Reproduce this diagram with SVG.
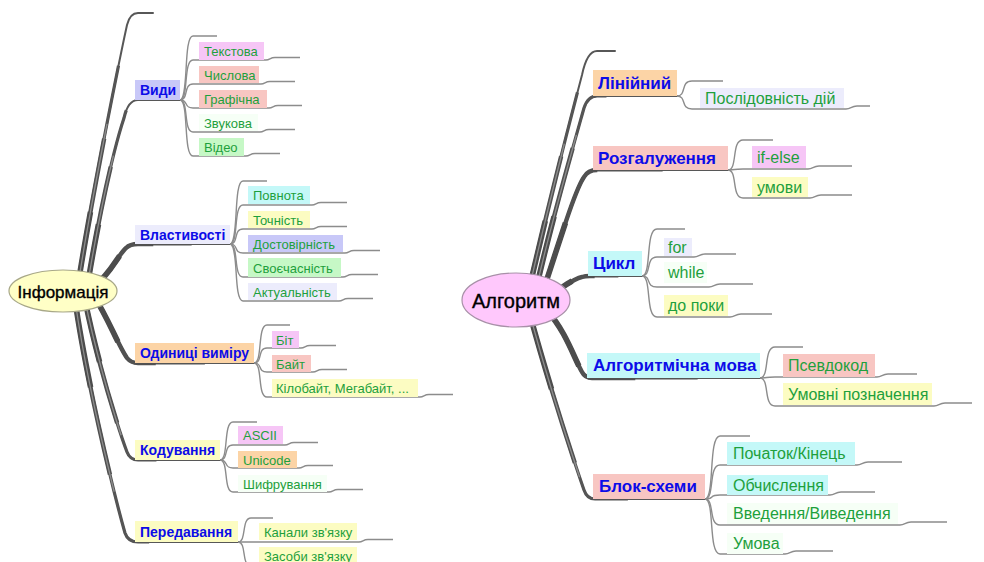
<svg xmlns="http://www.w3.org/2000/svg" xmlns:xlink="http://www.w3.org/1999/xlink" width="984" height="562" viewBox="0 0 984 562">
<style>
text{font-family:"Liberation Sans",Arial,sans-serif;dominant-baseline:central}
.ln{fill:none;stroke:#8c8c8c;stroke-width:1.4}
.s0{fill:none;stroke:#575757;stroke-width:2;stroke-linecap:round}
.s1{fill:none;stroke:#555;stroke-width:3.2;stroke-dasharray:75 200}
.s2{fill:none;stroke:#515151;stroke-width:4.4;stroke-dasharray:50 200}
.s3{fill:none;stroke:#4c4c4c;stroke-width:5.6;stroke-dasharray:25 200}
.hl{fill:none;stroke:#8e8e8e;stroke-width:1.3;stroke-dasharray:55 200}
.b1{font-size:14px;font-weight:bold;fill:#0c0ce8}
.b2{font-size:17px;font-weight:bold;fill:#0c0ce8}
.g1{font-size:13px;fill:#1ea03c}
.g2{font-size:16px;fill:#1ea03c}
.root{fill:#000;stroke:#000;stroke-width:0.35}
.pink{fill:#f6c6f6}.salm{fill:#f8c6c2}.lav{fill:#c8c8f8}.llav{fill:#ececfc}
.peach{fill:#fcd4a6}.yel{fill:#fcfcc2}.grn{fill:#c6f8c6}.cyan{fill:#c4f8f8}.pale{fill:#f6fff6}
</style>
<defs>
<path id="t1" pathLength="100" d="M78,285 C88,220 115,80 127,25 Q130,13 138,13 L153,13"/>
<path id="t2" pathLength="100" d="M88,282 C95,240 110,160 124,118 Q128,100 138,100 L180,100"/>
<path id="t3" pathLength="100" d="M95,285 C110,275 118,255 126,248 Q130,244 138,244 L230,244"/>
<path id="t4" pathLength="100" d="M95,298 C108,318 118,345 127,358 Q131,363 138,363 L254,363"/>
<path id="t5" pathLength="100" d="M85,300 C95,350 115,420 127,452 Q130,460 138,460 L220,460"/>
<path id="t6" pathLength="100" d="M75,300 C85,370 110,480 125,533 Q128,542 138,542 L238,542"/>
<path id="r1" pathLength="100" d="M530,285 C545,220 570,120 582,75 Q587,51 597,51 L615,51"/>
<path id="r2" pathLength="100" d="M537,285 C552,220 575,140 584,108 Q588,96 597,96 L677,96"/>
<path id="r3" pathLength="100" d="M545,285 C560,240 575,190 584,177 Q588,170 597,170 L728,170"/>
<path id="r4" pathLength="100" d="M552,294 C566,285 575,278 582,277 Q585,276 590,276 L642,276"/>
<path id="r5" pathLength="100" d="M548,312 C565,330 575,360 582,372 Q585,378 592,378 L760,378"/>
<path id="r6" pathLength="100" d="M530,315 C545,370 570,450 584,490 Q587,499 595,499 L705,499"/>
</defs>

<g id="connectors">
<g id="trunks">
<use href="#t1" class="s0"/><use href="#t1" class="s1"/><use href="#t1" class="s2"/><use href="#t1" class="s3"/><use href="#t1" class="hl"/>
<use href="#t2" class="s0"/><use href="#t2" class="s1"/><use href="#t2" class="s2"/><use href="#t2" class="s3"/><use href="#t2" class="hl"/>
<use href="#t3" class="s0"/><use href="#t3" class="s1"/><use href="#t3" class="s2"/><use href="#t3" class="s3"/>
<use href="#t4" class="s0"/><use href="#t4" class="s1"/><use href="#t4" class="s2"/><use href="#t4" class="s3"/>
<use href="#t5" class="s0"/><use href="#t5" class="s1"/><use href="#t5" class="s2"/><use href="#t5" class="s3"/><use href="#t5" class="hl"/>
<use href="#t6" class="s0"/><use href="#t6" class="s1"/><use href="#t6" class="s2"/><use href="#t6" class="s3"/><use href="#t6" class="hl"/>
<use href="#r1" class="s0"/><use href="#r1" class="s1"/><use href="#r1" class="s2"/><use href="#r1" class="s3"/><use href="#r1" class="hl"/>
<use href="#r2" class="s0"/><use href="#r2" class="s1"/><use href="#r2" class="s2"/><use href="#r2" class="s3"/><use href="#r2" class="hl"/>
<use href="#r3" class="s0"/><use href="#r3" class="s1"/><use href="#r3" class="s2"/><use href="#r3" class="s3"/>
<use href="#r4" class="s0"/><use href="#r4" class="s1"/><use href="#r4" class="s2"/><use href="#r4" class="s3"/>
<use href="#r5" class="s0"/><use href="#r5" class="s1"/><use href="#r5" class="s2"/><use href="#r5" class="s3"/>
<use href="#r6" class="s0"/><use href="#r6" class="s1"/><use href="#r6" class="s2"/><use href="#r6" class="s3"/><use href="#r6" class="hl"/>
</g>
<g id="leaves" class="ln">
<path d="M180,100 C189,100 183,36 193,36 L217,36"/>
<path d="M180,100 C189,100 183,60 193,60 L266,60 C270,60 270,57.5 275,57.5 L300,57.5"/>
<path d="M180,100 C189,100 183,84 193,84 L261,84 C265,84 265,81.5 270,81.5 L295,81.5"/>
<path d="M180,100 C189,100 183,108 193,108 L269,108 C273,108 273,105.5 278,105.5 L302,105.5"/>
<path d="M180,100 C189,100 183,132 193,132 L260,132 C264,132 264,129.5 269,129.5 L295,129.5"/>
<path d="M180,100 C189,100 183,156 193,156 L246,156 C250,156 250,153.5 255,153.5 L280,153.5"/>

<path d="M230,244 C239,244 233,181 243,181 L267,181"/>
<path d="M230,244 C239,244 233,205 243,205 L312,205 C316,205 316,202.5 321,202.5 L347,202.5"/>
<path d="M230,244 C239,244 233,229 243,229 L312,229 C316,229 316,226.5 321,226.5 L347,226.5"/>
<path d="M230,244 C239,244 233,253 243,253 L345,253 C349,253 349,250.5 354,250.5 L380,250.5"/>
<path d="M230,244 C239,244 233,277 243,277 L343,277 C347,277 347,274.5 352,274.5 L378,274.5"/>
<path d="M230,244 C239,244 233,301 243,301 L339,301 C343,301 343,298.5 348,298.5 L373,298.5"/>

<path d="M254,363 C263,363 257,325 267,325 L290,325"/>
<path d="M254,363 C263,363 257,348 267,348 L301,348 C305,348 305,345.5 310,345.5 L336,345.5"/>
<path d="M254,363 C263,363 257,372 267,372 L313,372 C317,372 317,369.5 322,369.5 L347,369.5"/>
<path d="M254,363 C263,363 257,397 267,397 L420,397 C424,397 424,394.5 429,394.5 L453,394.5"/>

<path d="M220,460 C229,460 223,422 233,422 L257,422"/>
<path d="M220,460 C229,460 223,445 233,445 L285,445 C289,445 289,442.5 294,442.5 L318,442.5"/>
<path d="M220,460 C229,460 223,468 233,468 L299,468 C303,468 303,465.5 308,465.5 L333,465.5"/>
<path d="M220,460 C229,460 223,492 233,492 L329,492 C333,492 333,489.5 338,489.5 L363,489.5"/>

<path d="M238,542 C247,542 241,518 251,518 L273,518"/>
<path d="M238,542 L359,542 C363,542 363,539.5 368,539.5 L393,539.5"/>
<path d="M238,542 C247,542 241,566 251,566 L393,566"/>

<path d="M677,96 C687,96 680,81 692,81 L723,81"/>
<path d="M677,96 C687,96 680,109 692,109 L846,109 C851,109 851,106 857,106 L870,106"/>

<path d="M728,170 C738,170 731,140 743,140 L773,140"/>
<path d="M728,170 C738,170 731,169 743,169 L808,169 C813,169 813,166 819,166 L852,166"/>
<path d="M728,170 C738,170 731,198 743,198 L810,198 C815,198 815,195 821,195 L852,195"/>

<path d="M642,276 C652,276 645,229 657,229 L685,229"/>
<path d="M642,276 C652,276 645,257 657,257 L694,257 C699,257 699,254 705,254 L736,254"/>
<path d="M642,276 C652,276 645,287 657,287 L709,287 C714,287 714,284 720,284 L753,284"/>
<path d="M642,276 C652,276 645,317 657,317 L730,317 C735,317 735,314 741,314 L772,314"/>

<path d="M760,378 C770,378 763,347 775,347 L803,347"/>
<path d="M760,378 C770,378 763,377 775,377 L877,377 C882,377 882,374 888,374 L917,374"/>
<path d="M760,378 C770,378 763,406 775,406 L934,406 C939,406 939,403 945,403 L972,403"/>

<path d="M705,499 C715,499 708,436 720,436 L750,436"/>
<path d="M705,499 C715,499 708,465 720,465 L857,465 C862,465 862,462 868,462 L902,462"/>
<path d="M705,499 C715,499 708,495 720,495 L830,495 C835,495 835,492 841,492 L875,492"/>
<path d="M705,499 C715,499 708,525 720,525 L900,525 C905,525 905,522 911,522 L947,522"/>
<path d="M705,499 C715,499 708,554 720,554 L785,554 C790,554 790,551 796,551 L833,551"/>
</g>
</g>

<g id="informatsiia"><ellipse cx="63" cy="291" rx="54" ry="21" fill="#ffffc6" stroke="#a8a888" stroke-width="1.2"/><text class="root" x="63" y="292" text-anchor="middle" font-size="17">Інформація</text></g>

<g id="vydy"><rect class="lav" x="135" y="80" width="45" height="20"/><text class="b1" x="140" y="90">Види</text></g>
<g id="tekstova"><rect class="pink" x="199" y="42" width="65" height="18"/><text class="g1" x="204" y="51">Текстова</text></g>
<g id="chyslova"><rect class="salm" x="199" y="66" width="60" height="17"/><text class="g1" x="204" y="75">Числова</text></g>
<g id="hrafichna"><rect class="salm" x="199" y="90" width="68" height="18"/><text class="g1" x="204" y="99">Графічна</text></g>
<g id="zvukova"><rect class="pale" x="199" y="114" width="59" height="17"/><text class="g1" x="204" y="123">Звукова</text></g>
<g id="video"><rect class="grn" x="199" y="138" width="45" height="18"/><text class="g1" x="204" y="147">Відео</text></g>

<g id="vlastyvosti"><rect class="llav" x="135" y="225" width="95" height="19"/><text class="b1" x="140" y="234.5">Властивості</text></g>
<g id="povnota"><rect class="cyan" x="248" y="186" width="62" height="18"/><text class="g1" x="253" y="195">Повнота</text></g>
<g id="tochnist"><rect class="yel" x="248" y="211" width="62" height="17"/><text class="g1" x="253" y="220">Точність</text></g>
<g id="dostovirnist"><rect class="lav" x="248" y="235" width="95" height="17"/><text class="g1" x="253" y="244">Достовірність</text></g>
<g id="svoiechasnist"><rect class="grn" x="248" y="258" width="93" height="19"/><text class="g1" x="253" y="268">Своєчасність</text></g>
<g id="aktualnist"><rect class="llav" x="248" y="283" width="89" height="17"/><text class="g1" x="253" y="292">Актуальність</text></g>

<g id="odynytsi"><rect class="peach" x="135" y="343" width="119" height="20"/><text class="b1" x="140" y="353">Одиниці виміру</text></g>
<g id="bit"><rect class="pink" x="272" y="331" width="27" height="17"/><text class="g1" x="276" y="340">Біт</text></g>
<g id="bait"><rect class="salm" x="272" y="355" width="39" height="17"/><text class="g1" x="276" y="364">Байт</text></g>
<g id="kilobait"><rect class="yel" x="272" y="379" width="146" height="18"/><text class="g1" x="276" y="388">Кілобайт, Мегабайт, ...</text></g>

<g id="koduvannia"><rect class="yel" x="135" y="440" width="85" height="20"/><text class="b1" x="140" y="450">Кодування</text></g>
<g id="ascii"><rect class="pink" x="238" y="426" width="45" height="18"/><text class="g1" x="243" y="435">ASCII</text></g>
<g id="unicode"><rect class="peach" x="238" y="451" width="59" height="17"/><text class="g1" x="243" y="460">Unicode</text></g>
<g id="shyfruvannia"><rect class="pale" x="238" y="475" width="89" height="17"/><text class="g1" x="243" y="484">Шифрування</text></g>

<g id="peredavannia"><rect class="yel" x="135" y="521" width="103" height="21"/><text class="b1" x="140" y="531.5">Передавання</text></g>
<g id="kanaly"><rect class="yel" x="259" y="523" width="98" height="17"/><text class="g1" x="264" y="532">Канали зв'язку</text></g>
<g id="zasoby"><rect class="yel" x="259" y="547" width="98" height="17"/><text class="g1" x="264" y="556">Засоби зв'язку</text></g>

<g id="alhorytm"><ellipse cx="516" cy="300" rx="54" ry="27" fill="#ffc8fc" stroke="#a890a8" stroke-width="1.2"/><text class="root" x="516" y="301" text-anchor="middle" font-size="20">Алгоритм</text></g>

<g id="liniinyi"><rect class="peach" x="593" y="70" width="84" height="26"/><text class="b2" x="598" y="83">Лінійний</text></g>
<g id="poslidovnist"><rect class="llav" x="700" y="88" width="144" height="20"/><text class="g2" x="705" y="98">Послідовність дій</text></g>

<g id="rozgaluzhennia"><rect class="salm" x="593" y="146" width="135" height="24"/><text class="b2" x="598" y="158">Розгалуження</text></g>
<g id="ifelse"><rect class="pink" x="752" y="146" width="54" height="22"/><text class="g2" x="757" y="157">if-else</text></g>
<g id="umovy"><rect class="yel" x="752" y="177" width="56" height="20"/><text class="g2" x="757" y="187">умови</text></g>

<g id="tsykl"><rect class="cyan" x="588" y="251" width="54" height="25"/><text class="b2" x="593" y="263.5">Цикл</text></g>
<g id="for"><rect class="llav" x="664" y="238" width="28" height="18"/><text class="g2" x="668" y="247">for</text></g>
<g id="while"><rect class="pale" x="664" y="262" width="43" height="21"/><text class="g2" x="668" y="272.5">while</text></g>
<g id="dopoky"><rect class="yel" x="664" y="295" width="64" height="21"/><text class="g2" x="668" y="305.5">до поки</text></g>

<g id="alhmova"><rect class="cyan" x="587" y="353" width="173" height="25"/><text class="b2" x="593" y="365.5">Алгоритмічна мова</text></g>
<g id="psevdokod"><rect class="salm" x="783" y="354" width="92" height="23"/><text class="g2" x="788" y="365.5">Псевдокод</text></g>
<g id="umovni"><rect class="yel" x="783" y="383" width="149" height="22"/><text class="g2" x="788" y="394">Умовні позначення</text></g>

<g id="blokskhemy"><rect class="salm" x="593" y="474" width="112" height="25"/><text class="b2" x="599" y="486.5">Блок-схеми</text></g>
<g id="pochatok"><rect class="cyan" x="727" y="442" width="128" height="23"/><text class="g2" x="733" y="453.5">Початок/Кінець</text></g>
<g id="obchyslennia"><rect class="cyan" x="727" y="475" width="101" height="20"/><text class="g2" x="733" y="485">Обчислення</text></g>
<g id="vvedennia"><rect class="pale" x="727" y="503" width="171" height="21"/><text class="g2" x="733" y="513.5">Введення/Виведення</text></g>
<g id="umova"><rect class="pale" x="727" y="533" width="56" height="21"/><text class="g2" x="733" y="543.5">Умова</text></g>
</svg>
